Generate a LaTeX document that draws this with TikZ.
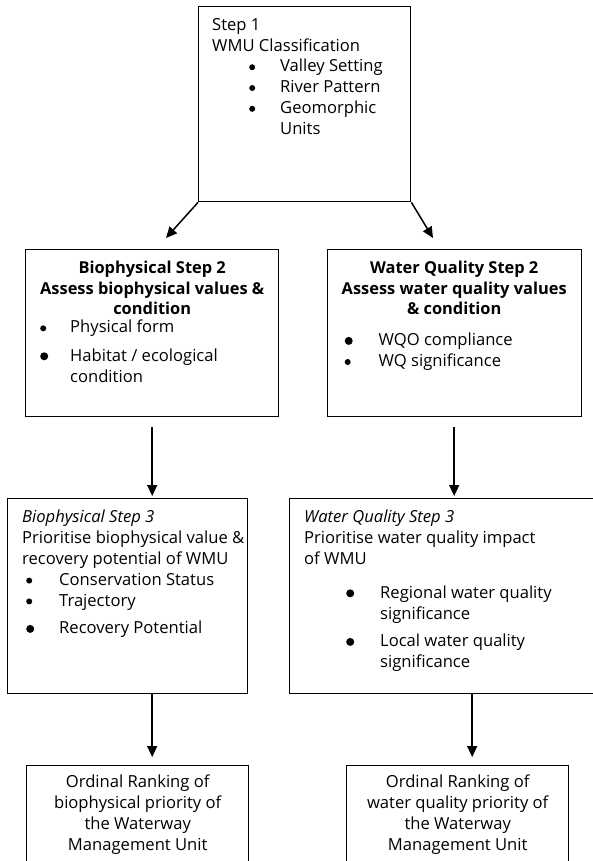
\documentclass[tikz,border=0pt]{standalone}
\usepackage{fontspec}
\setmainfont{Open Sans}
\usepackage{tikz}
\usetikzlibrary{arrows.meta,positioning}
\tikzset{
  box/.style ={draw=black, line width=1.4pt, anchor=north west, inner sep=0pt},
  txt/.style ={anchor=north west, inner sep=0pt, align=left, font=\fontsize{16.6}{20.8}\selectfont},
  ttl/.style ={anchor=north, inner sep=0pt, align=center, font=\fontsize{16.4}{20.5}\selectfont\bfseries},
  rnk/.style ={anchor=north, inner sep=0pt, align=center, font=\fontsize{16.6}{20.8}\selectfont},
  arr/.style ={-{Triangle[length=11pt,width=10pt]}, line width=1.5pt},
}
\newcommand{\bu}[2]{\hspace*{#1}\makebox[#2][l]{\tikz[baseline=0pt]\fill (3pt,4.6pt) circle (3pt);}}
\newcommand{\Bu}[2]{\hspace*{#1}\makebox[#2][l]{\tikz[baseline=0pt]\fill (4pt,4.9pt) circle (4pt);}}

\begin{document}
\begin{tikzpicture}[x=1pt, y=-1pt]
  \path[use as bounding box] (0,0) rectangle (593,861);
  \clip (0,0) rectangle (593,861);
  % boxes
  \node[box, minimum width=212pt, minimum height=195pt] (step1) at (198,6) {};
  \node[box, minimum width=253pt, minimum height=167pt] (bio2) at (25,249) {};
  \node[box, minimum width=254pt, minimum height=167pt] (wq2) at (326.5,249) {};
  \node[box, minimum width=240pt, minimum height=195pt] (bio3) at (7,498) {};
  \node[box, minimum width=365pt, minimum height=195pt] (wq3) at (289,498) {};
  \node[box, minimum width=222pt, minimum height=140pt] (bioRank) at (26,765) {};
  \node[box, minimum width=222pt, minimum height=140pt] (wqRank) at (346,765) {};
  % texts
  \node[txt] (step1Txt) at ([shift={(14,12)}]step1.north west) {Step 1\\
    WMU Classification\\
    \bu{37pt}{31pt}Valley Setting\\
    \bu{37pt}{31pt}River Pattern\\
    \bu{37pt}{31pt}Geomorphic\\
    \hspace*{68pt}Units};
  \node[ttl] (bio2Ttl) at ([yshift=-12pt]bio2.north) {Biophysical Step 2\\Assess biophysical values \&\\condition};
  \node[txt] (bio2Txt) at ([shift={(15,71)}]bio2.north west) {\bu{0pt}{30pt}Physical form\\[7.5pt]
    \Bu{0pt}{30pt}Habitat / ecological\\
    \hspace*{30pt}condition};
  \node[ttl] (wq2Ttl) at ([yshift=-12pt]wq2.north) {Water Quality Step 2\\Assess water quality values\\\& condition};
  \node[txt] (wq2Txt) at ([shift={(18,84)}]wq2.north west) {\Bu{0pt}{34pt}WQO compliance\\
    \bu{0pt}{34pt}WQ significance};
  \node[txt] (bio3Txt) at ([shift={(15,12)}]bio3.north west) {\textit{Biophysical Step 3}\\
    Prioritise biophysical value \&\\
    recovery potential of WMU\\
    \bu{4pt}{33pt}Conservation Status\\
    \bu{4pt}{33pt}Trajectory\\[7pt]
    \Bu{4pt}{33pt}Recovery Potential};
  \node[txt] (wq3Txt) at ([shift={(15,12)}]wq3.north west) {\textit{Water Quality Step 3}\\
    Prioritise water quality impact\\
    of WMU\\[13pt]
    \Bu{42pt}{34pt}Regional water quality\\
    \hspace*{76pt}significance\\[7pt]
    \Bu{42pt}{34pt}Local water quality\\
    \hspace*{76pt}significance};
  \node[rnk] (bioRankTxt) at ([yshift=-10pt]bioRank.north) {Ordinal Ranking of\\biophysical priority of\\the Waterway\\Management Unit};
  \node[rnk] (wqRankTxt) at ([yshift=-10pt]wqRank.north) {Ordinal Ranking of\\water quality priority of\\the Waterway\\Management Unit};
  % arrows
  \coordinate (bioIn) at (166,238);
  \coordinate (wqIn) at (433,238);
  \draw[arr] (step1.south west) -- (bioIn);
  \draw[arr] (step1.south east) -- (wqIn);
  \draw[arr, shorten <=10pt, shorten >=2pt] (bio2.south) -- (bio2.south |- bio3.north);
  \draw[arr, shorten <=10pt, shorten >=2pt] (wq2.south) -- (wq2.south |- wq3.north);
  \draw[arr, shorten >=8pt] (bio2.south |- bio3.south) -- (bio2.south |- bioRank.north);
  \draw[arr, shorten >=8pt] (wq3.south) -- (wq3.south |- wqRank.north);
\end{tikzpicture}
\end{document}
